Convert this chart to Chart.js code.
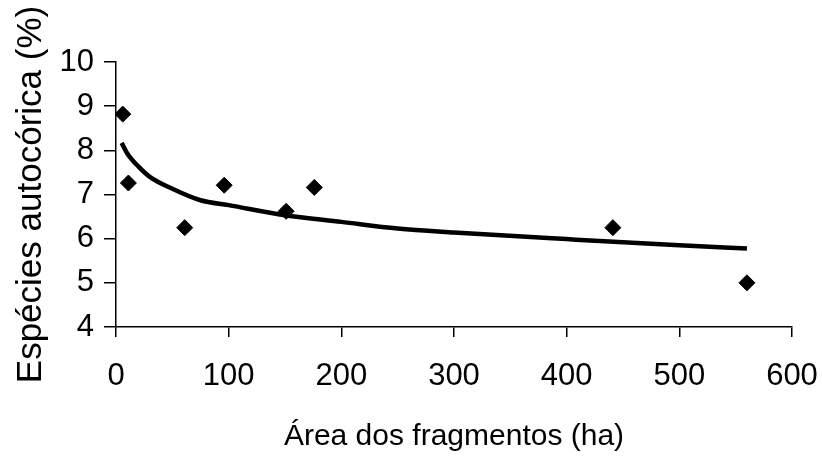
<!DOCTYPE html>
<html>
<head>
<meta charset="utf-8">
<script src="https://cdn.jsdelivr.net/npm/chart.js@4.4.1/dist/chart.umd.min.js"></script>
<style>
  html, body { margin: 0; padding: 0; background: #fff; }
  #wrap { width: 822px; height: 458px; }
</style>
</head>
<body>
<div id="wrap"><canvas id="grafico"></canvas></div>
<script>
// Pontos observados (área em ha, % espécies autocóricas)
const areas = [6, 11, 61, 96, 151, 176, 441, 560];
const autocoricas = [8.82, 7.26, 6.25, 7.21, 6.62, 7.16, 6.25, 5.0];

// Linha de tendência
const tendX = [5, 10, 20, 30, 50, 75, 100, 150, 200, 250, 300, 400, 500, 560];
const tendY = [8.17, 7.93, 7.63, 7.40, 7.13, 6.87, 6.76, 6.53, 6.38, 6.23, 6.14, 5.99, 5.85, 5.78];

const xTicks = [0, 100, 200, 300, 400, 500, 600];
const yTicks = [4, 5, 6, 7, 8, 9, 10];

const pontos = areas.map((a, i) => ({ x: a, y: autocoricas[i] }));
const tendencia = tendX.map((a, i) => ({ x: a, y: tendY[i] }));

const fonte = 'Arial, "Liberation Sans", sans-serif';

const config = {
    type: 'scatter',
    data: {
        datasets: [{
            label: 'Espécies autocóricas',
            data: pontos,
            pointStyle: 'rectRot',
            pointRadius: 8,
            backgroundColor: '#000',
            borderColor: '#000',
            borderWidth: 1,
            order: 1
        }, {
            label: 'Tendência',
            data: tendencia,
            showLine: true,
            pointRadius: 0,
            borderColor: '#000',
            borderWidth: 4.5,
            cubicInterpolationMode: 'monotone',
            fill: false,
            order: 2
        }]
    },
    options: {
        responsive: false,
        animation: false,
        layout: { padding: { top: 62, right: 30, left: 0, bottom: 0 } },
        plugins: {
            legend: { display: false },
            tooltip: { enabled: false }
        },
        scales: {
            x: {
                type: 'linear',
                min: 0,
                max: 600,
                afterFit: function(scale) {
                    scale.height = 131;
                    scale.paddingLeft = 0;
                    scale.paddingRight = 0;
                },
                afterBuildTicks: function(scale) {
                    scale.ticks = xTicks.map(v => ({ value: v }));
                },
                border: { display: true, color: '#000', width: 1.5 },
                grid: { drawOnChartArea: false, drawTicks: true, tickLength: 10, color: '#000', lineWidth: 1.5 },
                ticks: {
                    color: '#000',
                    font: { family: fonte, size: 31 },
                    padding: 21,
                    maxRotation: 0
                },
                title: {
                    display: true,
                    text: 'Área dos fragmentos (ha)',
                    color: '#000',
                    font: { family: fonte, size: 30 },
                    padding: { top: 0, bottom: 3 }
                }
            },
            y: {
                type: 'linear',
                min: 4,
                max: 10,
                afterFit: function(scale) { scale.width = 116; },
                afterBuildTicks: function(scale) {
                    scale.ticks = yTicks.map(v => ({ value: v }));
                },
                border: { display: true, color: '#000', width: 1.5 },
                grid: { drawOnChartArea: false, drawTicks: true, tickLength: 12, color: '#000', lineWidth: 1.5 },
                ticks: {
                    color: '#000',
                    font: { family: fonte, size: 31 },
                    padding: 10
                },
                title: {
                    display: true,
                    text: 'Espécies autocórica (%)',
                    color: '#000',
                    font: { family: fonte, size: 35 },
                    padding: { top: 10, bottom: 0 }
                }
            }
        }
    }
};

const canvas = document.getElementById('grafico');
canvas.width = 822;
canvas.height = 458;
new Chart(canvas, config);
</script>
</body>
</html>
